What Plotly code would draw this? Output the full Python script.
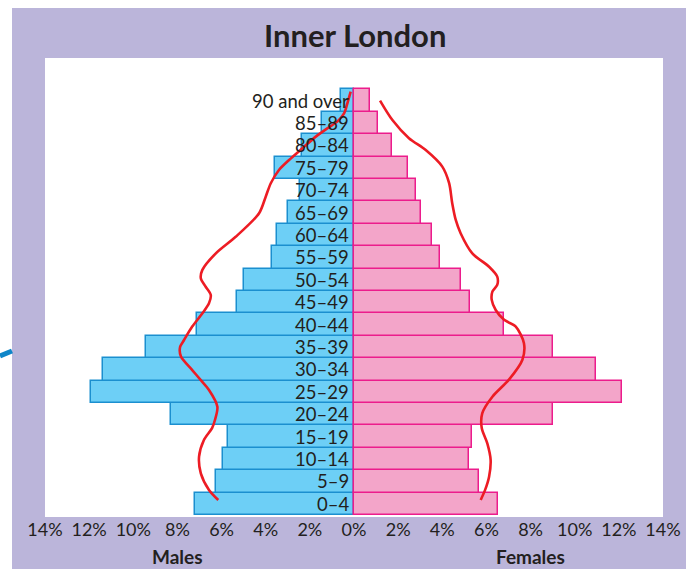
import plotly.graph_objects as go

# ---- data ----
ages = ["0–4", "5–9", "10–14", "15–19", "20–24", "25–29", "30–34", "35–39",
        "40–44", "45–49", "50–54", "55–59", "60–64", "65–69", "70–74",
        "75–79", "80–84", "85–89", "90 and over"]
males = [7.2, 6.25, 5.92, 5.7, 8.27, 11.92, 11.36, 9.43, 7.1, 5.32, 4.98,
         3.72, 3.47, 2.98, 2.46, 3.6, 2.34, 1.44, 0.6]
females = [6.54, 5.66, 5.2, 5.33, 9.0, 12.14, 10.95, 9.0, 6.81, 5.26, 4.83,
           3.9, 3.52, 3.02, 2.8, 2.43, 1.71, 1.07, 0.71]

# comparison outline (percent, age-group index)
outline_m_x = [-0.15, -0.30, -0.45, -0.76, -1.21, -1.73, -2.34, -2.94, -3.40,
               -3.77, -4.00, -4.30, -5.36, -6.26, -6.87, -6.94, -6.72,
               -6.49, -6.57, -6.87, -7.33, -7.70, -7.88, -7.84, -7.33, -6.95,
               -6.57, -6.19, -6.30, -6.43, -6.80, -7.02, -6.94, -6.57, -6.15]
outline_m_y = [18.40, 17.88, 17.43, 17.06, 16.76, 16.39, 15.87, 15.35, 14.90,
               14.31, 13.71, 12.97, 11.92, 11.18, 10.44, 10.07, 9.69,
               9.32, 8.95, 8.50, 7.91, 7.31, 7.00, 6.57, 5.97, 5.53,
               5.08, 4.33, 3.74, 3.38, 2.85, 2.10, 1.36, 0.62, 0.17]
outline_f_x = [1.18, 1.74, 2.49, 3.25, 4.00, 4.31, 4.45, 4.61, 4.83, 5.36,
               6.12, 6.49, 6.49, 6.27, 6.24, 6.42, 6.80, 7.33, 7.70, 7.63,
               7.02, 6.27, 5.81, 5.79, 6.04, 6.19, 6.12, 5.94, 5.74]
outline_f_y = [18.00, 17.13, 16.32, 15.79, 15.05, 14.31, 13.42, 12.67, 12.08,
               11.18, 10.58, 10.14, 9.77, 9.47, 9.10, 8.65, 8.21, 7.91, 7.17,
               6.43, 5.54, 4.78, 4.04, 3.37, 2.70, 1.96, 1.21, 0.62, 0.17]

tick_vals = [-14, -12, -10, -8, -6, -4, -2, 0, 2, 4, 6, 8, 10, 12, 14]
tick_text = ["14%", "12%", "10%", "8%", "6%", "4%", "2%", "0%",
             "2%", "4%", "6%", "8%", "10%", "12%", "14%"]

LAV = "#bbb5da"
FONT = "Lato"
W, H = 699, 569
L, R, T, B = 45, 36, 58, 52
pw, ph = W - L - R, H - T - B


def px(x):
    return (x - L) / pw


def py(y):
    return (H - B - y) / ph


ypos = list(range(len(ages)))

fig = go.Figure()
fig.add_trace(go.Bar(
    y=ypos, x=[-v for v in males], orientation="h", width=1,
    marker=dict(color="#6dcff6", line=dict(color="#1b8fcf", width=1.5)),
    name="Males", hoverinfo="skip"))
fig.add_trace(go.Bar(
    y=ypos, x=females, orientation="h", width=1,
    marker=dict(color="#f3a5c9", line=dict(color="#ec1c8c", width=1.5)),
    name="Females", hoverinfo="skip"))
fig.add_trace(go.Scatter(
    x=outline_m_x, y=outline_m_y, mode="lines",
    line=dict(color="#ed1c24", width=2.6, shape="spline", smoothing=0.8),
    hoverinfo="skip"))
fig.add_trace(go.Scatter(
    x=outline_f_x, y=outline_f_y, mode="lines",
    line=dict(color="#ed1c24", width=2.6, shape="spline", smoothing=0.8),
    hoverinfo="skip"))

annotations = []
for i, a in enumerate(ages):
    annotations.append(dict(
        x=0, y=i, xref="x", yref="y", text=a, showarrow=False,
        xanchor="right", yanchor="middle", xshift=-3,
        font=dict(family=FONT, size=18.5, color="#231f20")))
annotations.append(dict(
    x=-8, y=py(556), xref="x", yref="paper", text="<b>Males</b>",
    showarrow=False, xanchor="center", yanchor="middle",
    font=dict(family=FONT, size=19, color="#231f20")))
annotations.append(dict(
    x=8, y=py(556), xref="x", yref="paper", text="<b>Females</b>",
    showarrow=False, xanchor="center", yanchor="middle",
    font=dict(family=FONT, size=19, color="#231f20")))
annotations.append(dict(
    x=px(355), y=py(35), xref="paper", yref="paper", text="<b>Inner London</b>",
    showarrow=False, xanchor="center", yanchor="middle",
    font=dict(family=FONT, size=31, color="#231f20")))

shapes = [
    # white strips outside the lavender panel
    dict(type="rect", xref="paper", yref="paper", x0=px(0), x1=px(12),
         y0=py(H), y1=py(0), fillcolor="white", line=dict(width=0), layer="below"),
    dict(type="rect", xref="paper", yref="paper", x0=px(686), x1=px(W),
         y0=py(H), y1=py(0), fillcolor="white", line=dict(width=0), layer="below"),
    dict(type="rect", xref="paper", yref="paper", x0=px(0), x1=px(W),
         y0=py(8), y1=py(0), fillcolor="white", line=dict(width=0), layer="below"),
    # decorative connector fragment at left edge
    dict(type="line", xref="paper", yref="paper", x0=px(0), y0=py(356),
         x1=px(12), y1=py(351), line=dict(color="#0f86c9", width=5)),
]

fig.update_layout(
    width=W, height=H,
    margin=dict(l=L, r=R, t=T, b=B),
    paper_bgcolor=LAV, plot_bgcolor="white",
    barmode="overlay", bargap=0, showlegend=False,
    xaxis=dict(range=[-14, 14], tickvals=tick_vals, ticktext=tick_text,
               showgrid=False, zeroline=False, showline=False, ticks="",
               tickfont=dict(family=FONT, size=18, color="#231f20"),
               fixedrange=True),
    yaxis=dict(range=[-0.59, 19.9], showticklabels=False, showgrid=False,
               zeroline=False, showline=False, ticks="", fixedrange=True),
    annotations=annotations, shapes=shapes,
)

fig.write_html(
    "out.html",
    config={"displayModeBar": False},
    post_script="document.body.style.margin='0';document.body.style.padding='0';",
)
